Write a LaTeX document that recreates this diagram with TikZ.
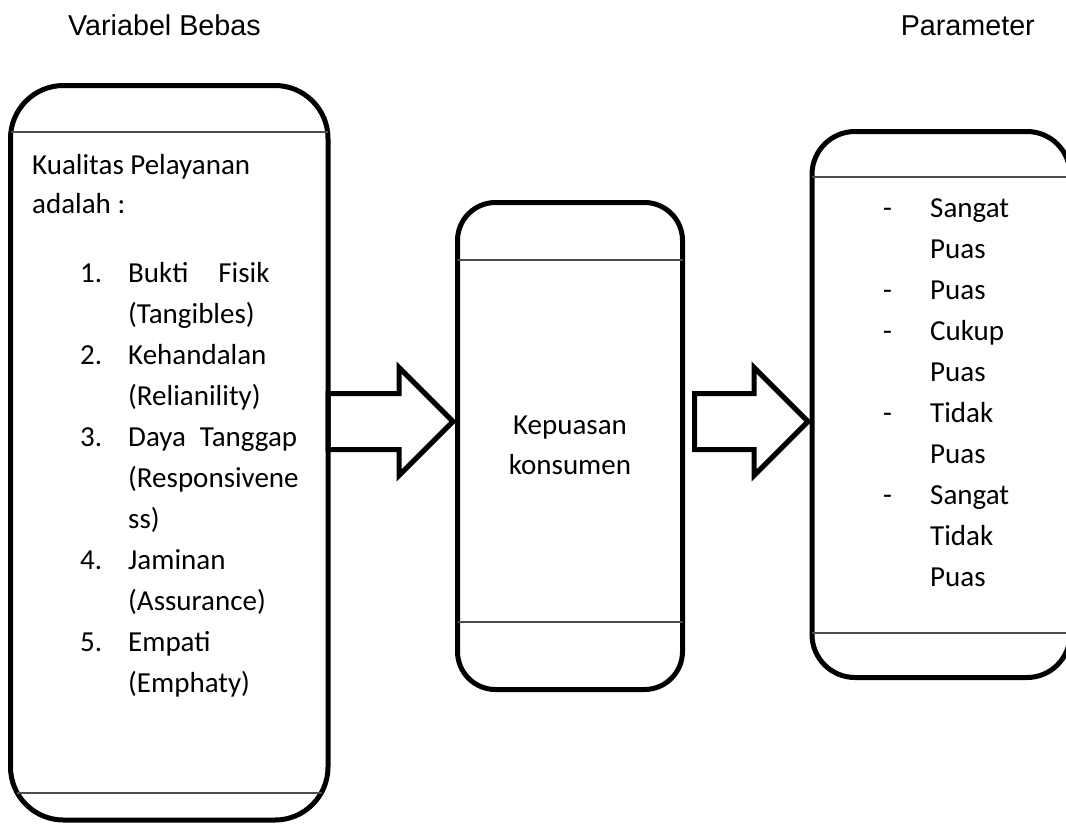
\documentclass[tikz,border=0pt]{standalone}
\usepackage{fontspec}
\setmainfont{Carlito}
\newfontfamily\titlefont{Liberation Sans}
\usetikzlibrary{shapes.arrows}
\tikzset{
    panel/.style={draw, line width=5pt, rounded corners=#1, outer sep=0pt, inner sep=0pt},
    panel/.default=45pt,
    rule/.style={draw=black!70, line width=1.5pt},
    txt/.style={font=\fontsize{29}{41}\selectfont, inner sep=0pt, anchor=base west},
    heading/.style={font=\titlefont\fontsize{28.7}{34}\selectfont, inner sep=0pt},
    blockarrow/.style={single arrow, draw, line width=5pt, inner xsep=0pt, inner ysep=25.5pt,
        outer sep=0pt, single arrow head extend=26pt, anchor=tail}
}

\begin{document}
\begin{tikzpicture}[x=1pt,y=-1pt]
    \clip (0,0) rectangle (1066,823);
    % headings
    \node[heading, anchor=base west] (bebas) at (68,35) {Variabel Bebas};
    \node[heading, anchor=base east] (param) at (1035,35) {Parameter};
    % boxes
    \node[panel=53pt, minimum width=317.5pt, minimum height=734.5pt] (kualitas) at (169.25,452.75) {};
    \node[panel=38pt, minimum width=225pt, minimum height=487pt] (kepuasan) at (570,446) {};
    \node[panel=43pt, minimum width=258pt, minimum height=546pt] (parameter) at (941,404.5) {};
    \draw[rule] (kualitas.west |- 0,132) -- (kualitas.east |- 0,132);
    \draw[rule, shorten <=6.5pt, shorten >=6.5pt] (kualitas.west |- 0,793) -- (kualitas.east |- 0,793);
    \draw[rule] (kepuasan.west |- 0,260) -- (kepuasan.east |- 0,260);
    \draw[rule] (kepuasan.west |- 0,622) -- (kepuasan.east |- 0,622);
    \draw[rule] (parameter.west |- 0,177) -- (parameter.east |- 0,177);
    \draw[rule] (parameter.west |- 0,633) -- (parameter.east |- 0,633);
    % arrows
    \node[blockarrow, minimum height=125pt] (arrow1) at (kualitas.east |- 0,421.5) {};
    \node[blockarrow, minimum height=113.5pt] (arrow2) at ([xshift=12pt]kepuasan.east |- 0,421.5) {};
    % left box text
    \node[txt] (kualitas-1) at (32,174) {Kualitas Pelayanan};
    \node[txt] (kualitas-2) at (32,213) {adalah :};
    \foreach \n [count=\k] in {282,364,446,569,651}
        \node[txt] (num-\k) at (80,\n) {\k.};
    \foreach \t [count=\i] in {{Bukti\hspace{30pt}Fisik}, {(Tangibles)}, {Kehandalan}, {(Relianility)},
        {Daya\hspace{14pt}Tanggap}, {(Responsivene}, {ss)}, {Jaminan}, {(Assurance)}, {Empati}, {(Emphaty)}}
        \node[txt] (item-\i) at (128,{282+41*(\i-1)}) {\t};
    % middle box text
    \node[txt, anchor=base] (kepuasan-1) at (570,434) {Kepuasan};
    \node[txt, anchor=base] (kepuasan-2) at (570,474) {konsumen};
    % right box text
    \foreach \i in {1,3,4,6,8}
        \node[txt] (dash-\i) at (883,{217+41*(\i-1)}) {-};
    \foreach \t [count=\i] in {Sangat, Puas, Puas, Cukup, Puas, Tidak, Puas, Sangat, Tidak, Puas}
        \node[txt] (level-\i) at (930,{217+41*(\i-1)}) {\t};
\end{tikzpicture}
\end{document}
